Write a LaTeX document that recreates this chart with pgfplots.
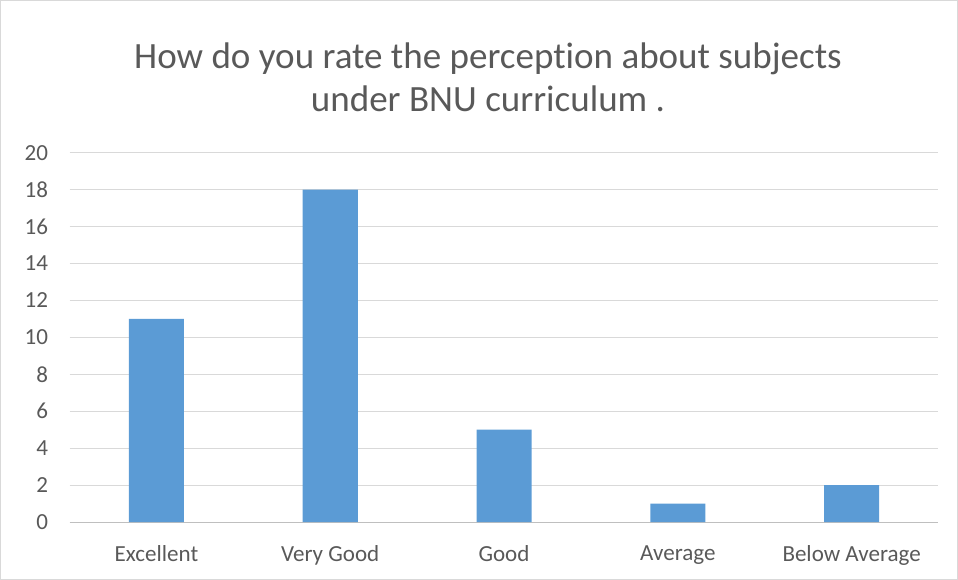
\documentclass[border=0pt]{standalone}
\usepackage{pgfplots}
\pgfplotsset{compat=1.18}
\usepackage{fontspec}
\setmainfont{Carlito}[Ligatures={NoCommon,NoContextual}]
\definecolor{barblue}{RGB}{91,155,213}
\definecolor{txtgray}{RGB}{89,89,89}
\definecolor{gridgray}{RGB}{217,217,217}
\definecolor{axgray}{RGB}{191,191,191}
\begin{document}
\begin{tikzpicture}[x=1pt,y=1pt]
\draw[gridgray, line width=1pt] (1,1) rectangle (957,579);
\begin{axis}[
  at={(70pt,58pt)}, anchor=south west,
  scale only axis, width=868pt, height=369pt,
  ybar, bar width=55pt,
  xmin=-0.5, xmax=4.5, ymin=0, ymax=20,
  xtick=data,
  xticklabels={Excellent, Very Good, Good, Average, Below Average},
  ytick={0,2,...,20},
  ymajorgrids, grid style={gridgray, line width=1pt},
  axis x line*=bottom, axis y line*=left,
  y axis line style={draw=none},
  x axis line style={axgray, line width=1pt, -},
  major tick length=0pt,
  tick label style={font=\fontsize{23}{26}\selectfont, text=txtgray},
  /pgf/number format/assume math mode=true,
  yticklabel style={xshift=-18pt},
  xticklabel style={yshift=-20pt},
  clip=false,
]
\addplot[fill=barblue, draw=none] coordinates {(0,11) (1,18) (2,5) (3,1) (4,2)};
\end{axis}
\node[align=center, text=txtgray, font=\fontsize{37}{43}\selectfont] at (488,502) {How do you rate the percept\kern0pt ion about subjects\\under BNU curriculum .};
\end{tikzpicture}
\end{document}
